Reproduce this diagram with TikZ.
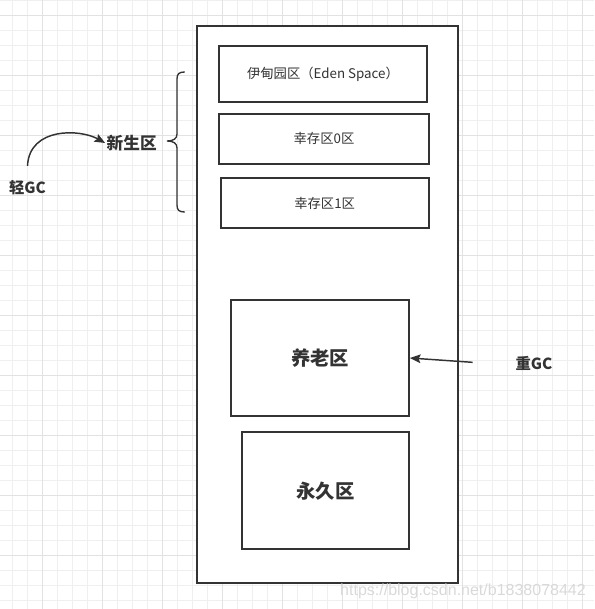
\documentclass[tikz,border=0pt]{standalone}
\usepackage{fontspec}
\setmainfont{Noto Sans CJK SC}
\newfontfamily\wmfont{Liberation Sans}
\usetikzlibrary{arrows.meta,positioning,calc}
\definecolor{hpdark}{HTML}{333333}
\definecolor{hpminor}{HTML}{EFEFEF}
\definecolor{hpmajor}{HTML}{E2E2E2}

\begin{document}
\begin{tikzpicture}[
  x=0.75pt,y=-0.75pt,
  every node/.style={text=hpdark},
  region/.style={rectangle,draw=hpdark,line width=1.35pt,fill=white,
                 inner sep=0pt,align=center},
  smallbox/.style={region,font=\fontsize{10}{12}\selectfont},
  bigbox/.style={region,font=\bfseries\fontsize{14.5}{17}\selectfont},
  tag/.style={inner sep=1pt,font=\bfseries\fontsize{11.5}{14}\selectfont},
  flow/.style={-{Stealth[length=8pt,width=6.5pt,inset=1.5pt]},line width=1.1pt,draw=hpdark},
  bracket/.style={line width=1pt,draw=hpdark,line cap=round}
]
\useasboundingbox (0,0) rectangle (594,609);

%% ---- grid paper ----
\foreach \gx in {12.3,27.3,...,594}{
  \draw[hpminor,line width=0.6pt] (\gx,0) -- (\gx,609);
}
\foreach \gy in {0,15,...,609}{
  \draw[hpminor,line width=0.6pt] (0,\gy) -- (594,\gy);
}
\foreach \gx in {42.3,102.3,...,594}{
  \draw[hpmajor,line width=0.6pt] (\gx,0) -- (\gx,609);
}
\foreach \gy in {15,75,...,609}{
  \draw[hpmajor,line width=0.6pt] (0,\gy) -- (594,\gy);
}

%% ---- heap ----
\node[region,minimum width=195.75pt,minimum height=417.75pt] (heap) at (327.5,304.5) {};

%% ---- young generation ----
\node[smallbox,minimum width=155.5pt,minimum height=42.2pt] (eden) at (323,73.9)
    {伊甸园区（Eden Space）};
\node[smallbox,below=7.4pt of eden,minimum width=157pt,minimum height=37.7pt,xshift=0.75pt] (surv0)
    {幸存区0区};
\node[smallbox,below=8.9pt of surv0,minimum width=156pt,minimum height=38pt,xshift=0.5pt] (surv1)
    {幸存区1区};

%% ---- old generation ----
\node[bigbox,minimum width=133.5pt,minimum height=87pt] (old) at (320,358) {养老区};
\node[bigbox,below=10.8pt of old,minimum width=125.7pt,minimum height=87.7pt,xshift=4.1pt] (perm)
    {永久区};

%% ---- brace and labels ----
\coordinate (tip) at (167,141);
\draw[bracket] (184.5,72) .. controls (179,72) and (177,74) .. (177,79) -- (177,134)
    .. controls (177,139) and (173,141) .. (tip)
    .. controls (173,141) and (177,143) .. (177,148) -- (177,205)
    .. controls (177,210) and (179,212) .. (184.5,212);
\node[tag,left=6.5pt of tip,yshift=-1.5pt,font=\bfseries\fontsize{12.5}{15}\selectfont] (young) {新生区};
\node[tag] (light) at (27.5,188) {轻GC};
\node[tag] (heavy) at (534,363) {重GC};

%% ---- arrows ----
\draw[flow] ([yshift=10pt]light.north) .. controls +(2,-39) and +(-25,-14) .. (young.west);
\draw[flow] ([xshift=-31pt,yshift=0.5pt]heavy.west) -- (old.east);

%% ---- watermark ----
\node[inner sep=0pt,font=\wmfont\fontsize{12}{14}\selectfont,text=gray!30] (mark) at (463,591)
    {https://blog.csdn.net/b1838078442};

\end{tikzpicture}
\end{document}
